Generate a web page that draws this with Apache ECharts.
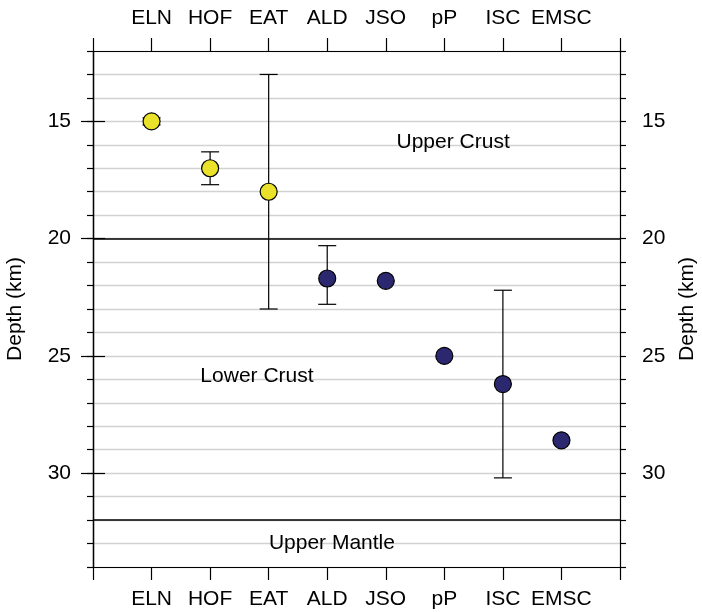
<!DOCTYPE html>
<html>
<head>
    <meta charset="utf-8">
    <title>Depth</title>
    <script src="https://cdn.jsdelivr.net/npm/echarts@6/dist/echarts.min.js"></script>
</head>
<body style="margin:0">
    <div id="main" style="width: 702px;height:612px;"></div>
    <script type="text/javascript">
        var myChart = echarts.init(document.getElementById('main'));

        // stations / methods along x
        var stations = ['ELN', 'HOF', 'EAT', 'ALD', 'JSO', 'pP', 'ISC', 'EMSC'];
        // depth (km) and error range
        var depth = [15, 17, 18, 21.7, 21.8, 25, 26.2, 28.6];
        var errLow = [14.85, 16.3, 13, 20.3, null, null, 22.2, null];
        var errHigh = [15.15, 17.7, 23, 22.8, null, null, 30.2, null];
        // which layer each estimate falls in
        var layer = ['upper', 'upper', 'upper', 'lower', 'lower', 'lower', 'lower', 'lower'];
        // boundaries (km)
        var boundaries = [20, 32];
        // region labels: [text, x position (station units), depth]
        var regionText = ['Upper Crust', 'Lower Crust', 'Upper Mantle'];
        var regionX = [6.15, 2.8, 4.08];
        var regionY = [15.9, 25.85, 33.0];
        var majorTicks = [15, 20, 25, 30];

        var font = 'Liberation Sans';
        var fs = 21;

        function pts(which) {
            var out = [];
            for (var i = 0; i < stations.length; i++) {
                if (layer[i] === which) out.push([i + 1, depth[i]]);
            }
            return out;
        }

        var errData = [];
        for (var i = 0; i < stations.length; i++) {
            if (errLow[i] != null) errData.push([i + 1, errLow[i], errHigh[i]]);
        }

        var xCommon = {
            type: 'value',
            min: 0,
            max: 9,
            interval: 1,
            axisLine: { lineStyle: { color: '#000', width: 1.2 } },
            axisTick: { inside: false, length: 13, lineStyle: { color: '#000', width: 1.2 } },
            axisLabel: {
                margin: 22,
                fontSize: fs,
                fontFamily: font,
                color: '#000',
                showMinLabel: true,
                showMaxLabel: true,
                formatter: function (v) { return stations[v - 1] || ''; }
            },
            splitLine: { show: false }
        };

        function yMajor(pos, gap) {
            return {
                type: 'value',
                position: pos,
                inverse: true,
                min: 12,
                max: 34,
                interval: 1,
                name: 'Depth (km)',
                nameLocation: 'middle',
                nameRotate: 90,
                nameGap: gap,
                nameTextStyle: { fontSize: fs, fontFamily: font, color: '#000' },
                axisLine: { show: true, lineStyle: { color: '#000', width: 1.2 } },
                axisTick: { length: 12, customValues: majorTicks, lineStyle: { color: '#000', width: 1.2 } },
                axisLabel: { margin: 22, fontSize: fs, fontFamily: font, color: '#000', customValues: majorTicks },
                splitLine: { show: false }
            };
        }

        function yMinor(pos, grid) {
            return {
                type: 'value',
                position: pos,
                inverse: true,
                min: 12,
                max: 34,
                interval: 1,
                axisLine: { show: true, lineStyle: { color: '#000', width: 1.2 } },
                axisTick: { length: 6, lineStyle: { color: '#000', width: 1.2 } },
                axisLabel: { show: false },
                splitLine: { show: grid, lineStyle: { color: '#d2d2d2', width: 1.3 } }
            };
        }

        option = {
            backgroundColor: '#fff',
            animation: false,
            grid: { left: 93, right: 82, top: 51, bottom: 45, outerBoundsMode: 'none', containLabel: false },
            xAxis: [
                Object.assign({}, xCommon, { position: 'bottom' }),
                Object.assign({}, xCommon, { position: 'top' })
            ],
            yAxis: [
                yMajor('left', 67),
                yMajor('right', 56),
                yMinor('left', true),
                yMinor('right', false)
            ],
            series: [{
                type: 'custom',
                xAxisIndex: 0,
                yAxisIndex: 0,
                data: errData,
                z: 3,
                renderItem: function (params, api) {
                    var x = api.value(0);
                    var top = api.coord([x, api.value(1)]);
                    var bot = api.coord([x, api.value(2)]);
                    var w = 9;
                    var st = { stroke: '#000', lineWidth: 1.2 };
                    return {
                        type: 'group',
                        children: [
                            { type: 'line', shape: { x1: top[0], y1: top[1], x2: bot[0], y2: bot[1] }, style: st },
                            { type: 'line', shape: { x1: top[0] - w, y1: top[1], x2: top[0] + w, y2: top[1] }, style: st },
                            { type: 'line', shape: { x1: bot[0] - w, y1: bot[1], x2: bot[0] + w, y2: bot[1] }, style: st }
                        ]
                    };
                }
            }, {
                type: 'scatter',
                xAxisIndex: 0,
                yAxisIndex: 0,
                symbolSize: 17,
                z: 4,
                itemStyle: { color: '#e9e12a', borderColor: '#000', borderWidth: 1.2, opacity: 1 },
                data: pts('upper'),
                markLine: {
                    silent: true,
                    symbol: 'none',
                    label: { show: false },
                    lineStyle: { color: '#000', type: 'solid', width: 1.5 },
                    data: boundaries.map(function (b) { return { yAxis: b }; })
                }
            }, {
                type: 'scatter',
                xAxisIndex: 0,
                yAxisIndex: 0,
                symbolSize: 17,
                z: 4,
                itemStyle: { color: '#2c2870', borderColor: '#000', borderWidth: 1.2, opacity: 1 },
                data: pts('lower')
            }, {
                type: 'custom',
                xAxisIndex: 0,
                yAxisIndex: 0,
                silent: true,
                z: 5,
                data: regionText.map(function (t, i) { return [regionX[i], regionY[i], i]; }),
                renderItem: function (params, api) {
                    var p = api.coord([api.value(0), api.value(1)]);
                    return {
                        type: 'text',
                        x: p[0],
                        y: p[1],
                        style: {
                            text: regionText[api.value(2)],
                            fill: '#000',
                            fontSize: fs,
                            fontFamily: font,
                            align: 'center',
                            verticalAlign: 'middle'
                        }
                    };
                }
            }]
        };

        myChart.setOption(option);
    </script>
</body>
</html>
